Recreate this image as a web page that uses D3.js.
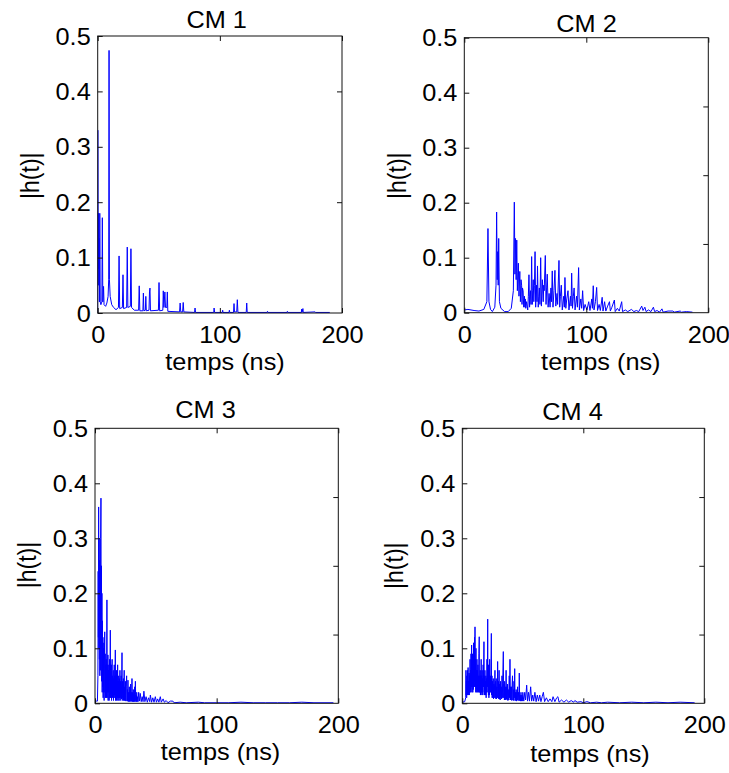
<!DOCTYPE html>
<html>
<head>
<meta charset="utf-8">
<script src="https://cdn.jsdelivr.net/npm/d3@7"></script>
<style>
  html, body { margin: 0; padding: 0; background: #fff; }
  svg { display: block; }
  text { font-family: 'Liberation Sans', Arial, sans-serif; fill: #000; }
</style>
</head>
<body>
<svg id="chart" width="729" height="773"></svg>
<script>
// ---------------- DATA ----------------
const titles = ["CM 1", "CM 2", "CM 3", "CM 4"];
const xLabel = "temps (ns)";
const yLabel = "|h(t)|";
const xTicks = [0, 100, 200];
const yTicks = [0, 0.1, 0.2, 0.3, 0.4, 0.5];
const xDomain = [0, 200];
const yDomain = [0, 0.5];
const rightTicksCM1 = [0.2, 0.4];
const rightTicksOther = [0.125, 0.25, 0.375];

// |h(t)| samples [time ns, amplitude]
const cm1 = [[0,0],[0.1,0.33],[0.4,0.05],[0.6,0.18],[0.9,0.08],[1.1,0.135],[1.4,0.02],[1.7,0.18],[2.1,0.02],[2.6,0.015],[3.4,0.02],[3.8,0.172],[4.2,0.02],[4.8,0.048],[5.2,0.015],[6.5,0.012],[7.5,0.018],[8.5,0.03],[9.0,0.06],[9.3,0.474],[9.6,0.06],[10.2,0.03],[11.5,0.015],[13,0.01],[15,0.006],[17,0.01],[17.5,0.103],[18,0.008],[20.2,0.01],[20.7,0.069],[21.2,0.008],[23.7,0.01],[24.2,0.119],[24.7,0.01],[26.7,0.012],[27.2,0.116],[27.7,0.01],[30,0.005],[33.5,0.005],[34,0.049],[34.5,0.004],[37,0.004],[37.4,0.036],[37.8,0.004],[39,0.005],[39.4,0.03],[39.8,0.004],[42,0.005],[42.4,0.038],[42.8,0.045],[43.2,0.004],[49.7,0.005],[50.2,0.055],[50.7,0.004],[53.3,0.005],[53.7,0.04],[54.2,0.01],[55,0.038],[55.5,0.01],[56.6,0.01],[57,0.038],[57.4,0.003],[67,0.002],[67.5,0.018],[68,0.002],[69.5,0.002],[70,0.019],[70.5,0.002],[79.3,0.001],[79.7,0.009],[80.1,0.001],[95,0.001],[95.3,0.009],[95.7,0.001],[102,0.001],[102.3,0.005],[102.6,0.001],[107.5,0.001],[107.8,0.005],[108.1,0.001],[111.2,0.001],[111.6,0.017],[112,0.002],[113.8,0.002],[114.3,0.024],[114.8,0.001],[121.6,0.001],[122,0.018],[122.4,0.001],[138.7,0.001],[139,0.003],[139.3,0.001],[155,0.001],[155.3,0.003],[155.6,0.001],[166.7,0.001],[167,0.007],[167.3,0.001],[168,0.008],[168.3,0.001],[178,0.002],[178.3,0.001],[190,0.001]];

const cm2 = [[0,0.005],[3,0.006],[8,0.004],[12,0.003],[16,0.006],[18.5,0.02],[19.4,0.153],[20.2,0.02],[21.5,0.006],[23,0.002],[25,0.01],[26,0.05],[26.5,0.183],[27,0.06],[27.4,0.111],[27.8,0.05],[28.2,0.135],[28.8,0.02],[30,0.008],[33,0.002],[36,0.002],[38.5,0.008],[40.2,0.04],[41,0.201],[41.5,0.07],[42,0.135],[42.5,0.06],[43,0.132],[43.5,0.04],[44.3,0.09],[44.8,0.03],[45.5,0.075],[46,0.02],[46.5,0.06],[47,0.05],[47.3,0.015],[47.7,0.045],[48.2,0.04],[48.7,0.01],[49.3,0.03],[49.7,0.01],[50,0.025],[50.4,0.008],[51,0.02],[52,0.005],[52.5,0.03],[53,0.069],[53.5,0.01],[54.3,0.04],[54.7,0.015],[55.2,0.102],[55.7,0.015],[56.1,0.04],[56.5,0.06],[57,0.02],[57.5,0.05],[58,0.111],[58.5,0.01],[59.2,0.05],[59.6,0.02],[60,0.085],[60.6,0.01],[61.1,0.03],[61.5,0.045],[62,0.015],[62.6,0.1],[63.2,0.012],[64,0.06],[64.7,0.02],[65.1,0.05],[65.5,0.04],[66.4,0.104],[67,0.015],[67.5,0.045],[68,0.07],[68.7,0.01],[69.5,0.035],[70.3,0.01],[71,0.045],[71.5,0.02],[72.1,0.076],[72.7,0.01],[73.5,0.04],[74.3,0.077],[75,0.012],[76,0.035],[76.5,0.015],[77.6,0.095],[78.2,0.01],[78.8,0.03],[79.5,0.05],[80.3,0.005],[81.5,0.03],[82,0.01],[82.5,0.064],[83.2,0.008],[84,0.025],[85,0.04],[85.8,0.005],[87,0.03],[87.5,0.012],[88,0.072],[88.7,0.008],[89.4,0.03],[90,0.045],[90.8,0.005],[92,0.03],[92.7,0.01],[93.7,0.082],[94.3,0.005],[95.5,0.025],[96.2,0.008],[97,0.04],[97.8,0.004],[99,0.015],[100.5,0.005],[102,0.02],[103,0.004],[104.5,0.025],[105,0.008],[105.7,0.049],[106.3,0.005],[107.5,0.02],[108.5,0.046],[109.2,0.004],[110.5,0.015],[111.5,0.004],[113,0.028],[113.7,0.003],[115,0.02],[116,0.003],[117.5,0.012],[119,0.02],[119.7,0.003],[121,0.01],[123,0.023],[123.7,0.002],[125.5,0.008],[127,0.003],[129,0.02],[129.7,0.002],[132,0.005],[134,0.002],[137,0.006],[139,0.002],[141,0.004],[143,0.002],[145.4,0.012],[146.5,0.004],[148,0.01],[149,0.002],[151,0.005],[153,0.002],[155,0.01],[156,0.002],[158,0.004],[160,0.001],[162,0.007],[163,0.001],[167,0.003],[171,0.003],[172,0.001],[177,0.003],[178,0.001],[182,0.002],[187,0.001]];

const cm3 = [[0,0.003],[1,0.004],[2,0.004],[2.4,0.05],[2.6,0.24],[2.8,0.12],[3.0,0.357],[3.2,0.1],[3.4,0.3],[3.6,0.08],[3.8,0.26],[4.0,0.05],[4.2,0.25],[4.4,0.06],[4.6,0.3],[4.9,0.373],[5.1,0.1],[5.3,0.25],[5.5,0.04],[5.7,0.2],[5.9,0.02],[6.1,0.15],[6.3,0.03],[6.5,0.12],[6.7,0.01],[6.9,0.1],[7.1,0.02],[7.3,0.11],[7.5,0.005],[7.7,0.08],[8.0,0.13],[8.2,0.02],[8.4,0.09],[8.6,0.01],[8.8,0.07],[9.0,0.02],[9.2,0.08],[9.4,0.01],[9.6,0.06],[9.8,0.188],[10.0,0.01],[10.2,0.07],[10.4,0.02],[10.6,0.088],[10.8,0.005],[11.0,0.06],[11.2,0.02],[11.4,0.07],[11.6,0.005],[11.8,0.05],[12.0,0.08],[12.2,0.01],[12.4,0.06],[12.6,0.133],[12.8,0.01],[13.0,0.05],[13.2,0.02],[13.4,0.07],[13.6,0.005],[13.8,0.06],[14.1,0.08],[14.3,0.01],[14.5,0.05],[14.7,0.015],[15.0,0.06],[15.2,0.005],[15.4,0.045],[15.6,0.01],[15.8,0.07],[16.0,0.015],[16.2,0.05],[16.4,0.01],[16.7,0.097],[16.9,0.005],[17.1,0.05],[17.3,0.01],[17.6,0.06],[17.8,0.005],[18.0,0.04],[18.3,0.01],[18.6,0.07],[18.8,0.005],[19.0,0.04],[19.3,0.01],[19.5,0.05],[19.7,0.005],[20.0,0.045],[20.2,0.01],[20.5,0.06],[20.7,0.005],[21.0,0.04],[21.3,0.01],[21.5,0.05],[21.8,0.008],[22.2,0.092],[22.4,0.005],[22.7,0.04],[23.0,0.01],[23.3,0.045],[23.5,0.005],[23.8,0.035],[24.0,0.06],[24.2,0.005],[24.5,0.03],[24.8,0.005],[25.0,0.04],[25.3,0.004],[25.6,0.03],[26.0,0.05],[26.3,0.004],[26.6,0.025],[26.8,0.004],[27.1,0.042],[27.4,0.003],[27.7,0.02],[28.0,0.004],[28.2,0.03],[28.5,0.003],[28.8,0.02],[29.0,0.004],[29.3,0.035],[29.6,0.003],[29.9,0.02],[30.1,0.004],[30.4,0.045],[30.7,0.003],[31.0,0.02],[31.3,0.003],[31.5,0.025],[31.8,0.003],[32.1,0.015],[32.4,0.003],[32.6,0.03],[32.9,0.005],[33.2,0.04],[33.5,0.003],[33.8,0.015],[34.0,0.003],[34.3,0.02],[34.7,0.003],[35.0,0.012],[35.4,0.003],[35.9,0.02],[36.6,0.004],[37.2,0.018],[38,0.003],[38.8,0.012],[39.5,0.003],[40.2,0.022],[41,0.003],[42,0.012],[43,0.002],[44,0.01],[45,0.003],[45.5,0.015],[46.5,0.002],[47.5,0.01],[48.5,0.002],[49.6,0.012],[50.5,0.002],[51.5,0.008],[52.5,0.002],[53.7,0.012],[54.5,0.002],[56,0.008],[57,0.002],[58.5,0.005],[60,0.001],[62,0.004],[64,0.004],[65,0.001],[70,0.002],[75,0.001],[85,0.002],[90,0.001],[100,0.001],[110,0.001],[120,0.002],[130,0.001],[140,0.001],[150,0.001],[160,0.001],[170,0.002],[180,0.001],[196,0.001]];

const cm4 = [[0,0.002],[2,0.003],[2.8,0.01],[3.0,0.06],[3.2,0.015],[3.4,0.04],[3.6,0.01],[3.8,0.05],[4.0,0.02],[4.2,0.06],[4.4,0.015],[4.6,0.045],[4.8,0.065],[5.0,0.015],[5.2,0.04],[5.4,0.02],[5.6,0.055],[5.8,0.015],[6.0,0.05],[6.2,0.02],[6.4,0.08],[6.6,0.02],[6.8,0.06],[7.0,0.025],[7.2,0.09],[7.4,0.03],[7.7,0.106],[7.9,0.02],[8.1,0.07],[8.3,0.03],[8.5,0.09],[8.7,0.02],[8.9,0.06],[9.1,0.025],[9.3,0.11],[9.5,0.03],[9.7,0.07],[9.9,0.03],[10.1,0.12],[10.3,0.04],[10.5,0.139],[10.7,0.03],[10.9,0.08],[11.1,0.02],[11.3,0.1],[11.5,0.03],[11.7,0.06],[11.9,0.02],[12.1,0.08],[12.3,0.025],[12.5,0.06],[12.7,0.02],[12.9,0.07],[13.1,0.025],[13.3,0.05],[13.5,0.02],[13.7,0.09],[14.0,0.121],[14.2,0.02],[14.4,0.05],[14.6,0.02],[14.8,0.06],[15.0,0.015],[15.2,0.05],[15.4,0.02],[15.6,0.08],[15.8,0.02],[16.0,0.05],[16.2,0.015],[16.4,0.06],[16.6,0.02],[16.8,0.045],[17.0,0.015],[17.2,0.07],[17.5,0.03],[17.9,0.112],[18.1,0.02],[18.3,0.05],[18.5,0.015],[18.7,0.06],[18.9,0.015],[19.1,0.04],[19.3,0.015],[19.5,0.05],[19.7,0.01],[19.9,0.045],[20.1,0.02],[20.4,0.08],[20.7,0.03],[21.0,0.153],[21.2,0.02],[21.4,0.06],[21.6,0.015],[21.8,0.07],[22.0,0.01],[22.2,0.05],[22.4,0.015],[22.6,0.08],[22.9,0.02],[23.2,0.05],[23.5,0.02],[24.0,0.127],[24.2,0.015],[24.5,0.05],[24.7,0.01],[25.0,0.04],[25.3,0.01],[25.6,0.045],[25.8,0.008],[26.1,0.035],[26.4,0.01],[27.0,0.06],[27.2,0.01],[27.5,0.04],[27.8,0.008],[28.0,0.045],[28.3,0.008],[28.6,0.03],[28.9,0.01],[29.2,0.076],[29.5,0.01],[29.8,0.04],[30.1,0.008],[30.4,0.06],[30.7,0.008],[31.0,0.035],[31.3,0.006],[31.6,0.04],[31.9,0.01],[32.2,0.03],[32.5,0.008],[32.8,0.05],[33.1,0.01],[33.4,0.04],[33.9,0.094],[34.2,0.01],[34.5,0.035],[34.8,0.006],[35.0,0.04],[35.3,0.008],[35.6,0.03],[35.9,0.006],[36.2,0.06],[36.5,0.008],[36.8,0.03],[37.1,0.006],[37.4,0.035],[37.7,0.005],[38.0,0.025],[38.4,0.006],[38.8,0.05],[39.1,0.01],[39.4,0.08],[39.7,0.006],[40.0,0.03],[40.3,0.006],[40.6,0.03],[40.9,0.005],[41.2,0.035],[41.5,0.05],[41.8,0.006],[42.1,0.025],[42.4,0.005],[42.7,0.04],[43.0,0.01],[43.3,0.063],[43.6,0.005],[43.9,0.02],[44.2,0.005],[44.5,0.025],[44.8,0.004],[45.1,0.02],[45.4,0.006],[45.7,0.03],[46.0,0.005],[46.5,0.02],[46.8,0.005],[47.1,0.055],[47.4,0.005],[47.8,0.015],[48.1,0.004],[48.5,0.02],[48.8,0.004],[49.2,0.015],[49.6,0.004],[50,0.02],[50.8,0.004],[51.6,0.02],[52.3,0.006],[53.2,0.033],[53.9,0.004],[54.7,0.02],[55.5,0.004],[56.5,0.03],[57.3,0.004],[58.2,0.015],[59,0.004],[60,0.02],[61,0.003],[62,0.015],[63,0.004],[64,0.015],[65,0.003],[66,0.012],[67,0.02],[68,0.003],[69.5,0.01],[71,0.003],[72.5,0.008],[74,0.003],[75,0.012],[76.5,0.003],[78,0.01],[79,0.012],[80,0.002],[82,0.006],[84,0.002],[86,0.006],[88,0.002],[90,0.005],[92,0.002],[93,0.005],[95,0.002],[98,0.003],[100,0.001],[103,0.003],[106,0.001],[111,0.002],[115,0.001],[120,0.002],[130,0.001],[140,0.002],[150,0.001],[160,0.002],[170,0.001],[180,0.002],[192,0.001]];

const series = [cm1, cm2, cm3, cm4];
const rightTicks = [rightTicksCM1, rightTicksOther, rightTicksOther, rightTicksOther];

// ---------------- LAYOUT ----------------
const panels = [
  {left: 97.7, right: 342, top: 36, bottom: 313, titleX: 216.7, titleY: 28, xlX: 225, xlY: 370, ylX: 39, ylY: 175.7},
  {left: 464.3, right: 708.3, top: 37.7, bottom: 312.7, titleX: 586.5, titleY: 32, xlX: 600.8, xlY: 370, ylX: 405.5, ylY: 175.7},
  {left: 95, right: 338.3, top: 428.3, bottom: 703.3, titleX: 205.5, titleY: 418, xlX: 220.5, xlY: 760, ylX: 36, ylY: 565},
  {left: 462.3, right: 704.3, top: 428.3, bottom: 703.3, titleX: 572.5, titleY: 420, xlX: 590, xlY: 762, ylX: 403, ylY: 565.7}
];
const FS = 23, SX = 1.1;

const svg = d3.select("#chart");

panels.forEach((p, i) => {
  const x = d3.scaleLinear().domain(xDomain).range([p.left, p.right]);
  const y = d3.scaleLinear().domain(yDomain).range([p.bottom, p.top]);
  const g = svg.append("g");

  g.append("clipPath").attr("id", "clip" + i)
    .append("rect").attr("x", p.left).attr("y", p.top)
    .attr("width", p.right - p.left).attr("height", p.bottom - p.top);

  const line = d3.line().x(d => x(d[0])).y(d => y(d[1]));
  g.append("path").datum(series[i])
    .attr("clip-path", `url(#clip${i})`)
    .attr("d", line)
    .attr("fill", "none")
    .attr("stroke", "#0000ff")
    .attr("stroke-width", 1)
    .attr("stroke-linejoin", "miter");

  // box
  g.append("rect").attr("x", p.left).attr("y", p.top)
    .attr("width", p.right - p.left).attr("height", p.bottom - p.top)
    .attr("fill", "none").attr("stroke", "#111").attr("stroke-width", 1);

  // left axis
  const ax = g.append("g").attr("transform", `translate(${p.left},0)`)
    .call(d3.axisLeft(y).tickValues(yTicks).tickSize(-5).tickFormat(d3.format("")));
  ax.select(".domain").remove();
  ax.selectAll("line").attr("stroke", "#111");
  ax.selectAll("text").attr("x", 0).attr("dy", null)
    .attr("transform", `translate(-7,8) scale(${SX},1)`)
    .style("font-size", FS + "px").attr("font-family", null);

  // bottom axis
  const bx = g.append("g").attr("transform", `translate(0,${p.bottom})`)
    .call(d3.axisBottom(x).tickValues(xTicks).tickSize(-5).tickFormat(d3.format("")));
  bx.select(".domain").remove();
  bx.selectAll("line").attr("stroke", "#111");
  bx.selectAll("text").attr("y", 0).attr("dy", null)
    .attr("transform", `translate(0,30) scale(${SX},1)`)
    .style("font-size", FS + "px").attr("font-family", null);

  // top ticks
  const tx = g.append("g").attr("transform", `translate(0,${p.top})`)
    .call(d3.axisTop(x).tickValues(xTicks).tickSize(-5).tickFormat(""));
  tx.select(".domain").remove();
  tx.selectAll("line").attr("stroke", "#111");

  // right ticks
  const rx = g.append("g").attr("transform", `translate(${p.right},0)`)
    .call(d3.axisRight(y).tickValues(rightTicks[i]).tickSize(-5).tickFormat(""));
  rx.select(".domain").remove();
  rx.selectAll("line").attr("stroke", "#111");

  // title
  g.append("text").attr("transform", `translate(${p.titleX},${p.titleY}) scale(${SX},1)`)
    .attr("text-anchor", "middle").style("font-size", FS + "px").text(titles[i]);
  // x label
  g.append("text").attr("transform", `translate(${p.xlX},${p.xlY}) scale(${SX},1)`)
    .attr("text-anchor", "middle").style("font-size", FS + "px").text(xLabel);
  // y label
  g.append("text").attr("transform", `translate(${p.ylX},${p.ylY}) scale(${SX},1) rotate(-90)`)
    .attr("text-anchor", "middle").style("font-size", FS + "px").text(yLabel);
});
</script>
</body>
</html>
